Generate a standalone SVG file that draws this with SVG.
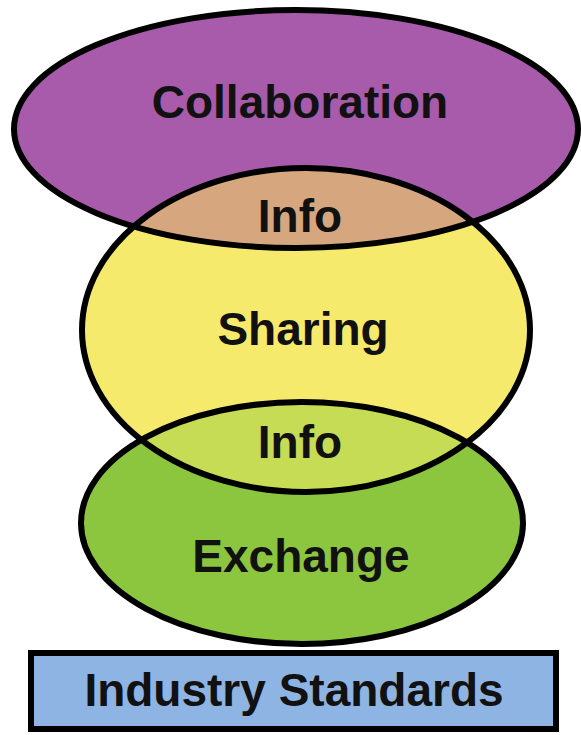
<svg xmlns="http://www.w3.org/2000/svg" width="581" height="735" viewBox="0 0 581 735">
<style>
.t{font-family:"Liberation Sans",Arial,sans-serif;font-weight:bold;font-size:46px;fill:#111;text-anchor:middle}
.o{fill:none;stroke:#000;stroke-width:6}
</style>
<defs>
<clipPath id="cTop"><ellipse cx="296" cy="129" rx="282" ry="119"/></clipPath>
<clipPath id="cMid"><ellipse cx="306" cy="330" rx="224" ry="162"/></clipPath>
</defs>
<rect width="581" height="735" fill="#fff"/>
<g id="collaboration">
<ellipse cx="296" cy="129" rx="282" ry="119" fill="#a85aab"/>
</g>
<g id="sharing">
<ellipse cx="306" cy="330" rx="224" ry="162" fill="#f6ea6c"/>
<ellipse cx="306" cy="330" rx="224" ry="162" fill="#d6a67e" clip-path="url(#cTop)"/>
</g>
<g id="exchange">
<ellipse cx="302" cy="523" rx="221" ry="121" fill="#8cc53e"/>
<ellipse cx="302" cy="523" rx="221" ry="121" fill="#c6dc54" clip-path="url(#cMid)"/>
</g>
<g id="outlines">
<ellipse class="o" cx="296" cy="129" rx="282" ry="119"/>
<ellipse class="o" cx="306" cy="330" rx="224" ry="162"/>
<ellipse class="o" cx="302" cy="523" rx="221" ry="121"/>
</g>
<g id="standards">
<rect x="31" y="653" width="525" height="76" fill="#8eb4e3" stroke="#000" stroke-width="6"/>
<text class="t" x="294" y="706">Industry Standards</text>
</g>
<g id="labels">
<text class="t" x="300" y="118">Collaboration</text>
<text class="t" x="300" y="232">Info</text>
<text class="t" x="303" y="345">Sharing</text>
<text class="t" x="300" y="458">Info</text>
<text class="t" x="301" y="572">Exchange</text>
</g>
</svg>
